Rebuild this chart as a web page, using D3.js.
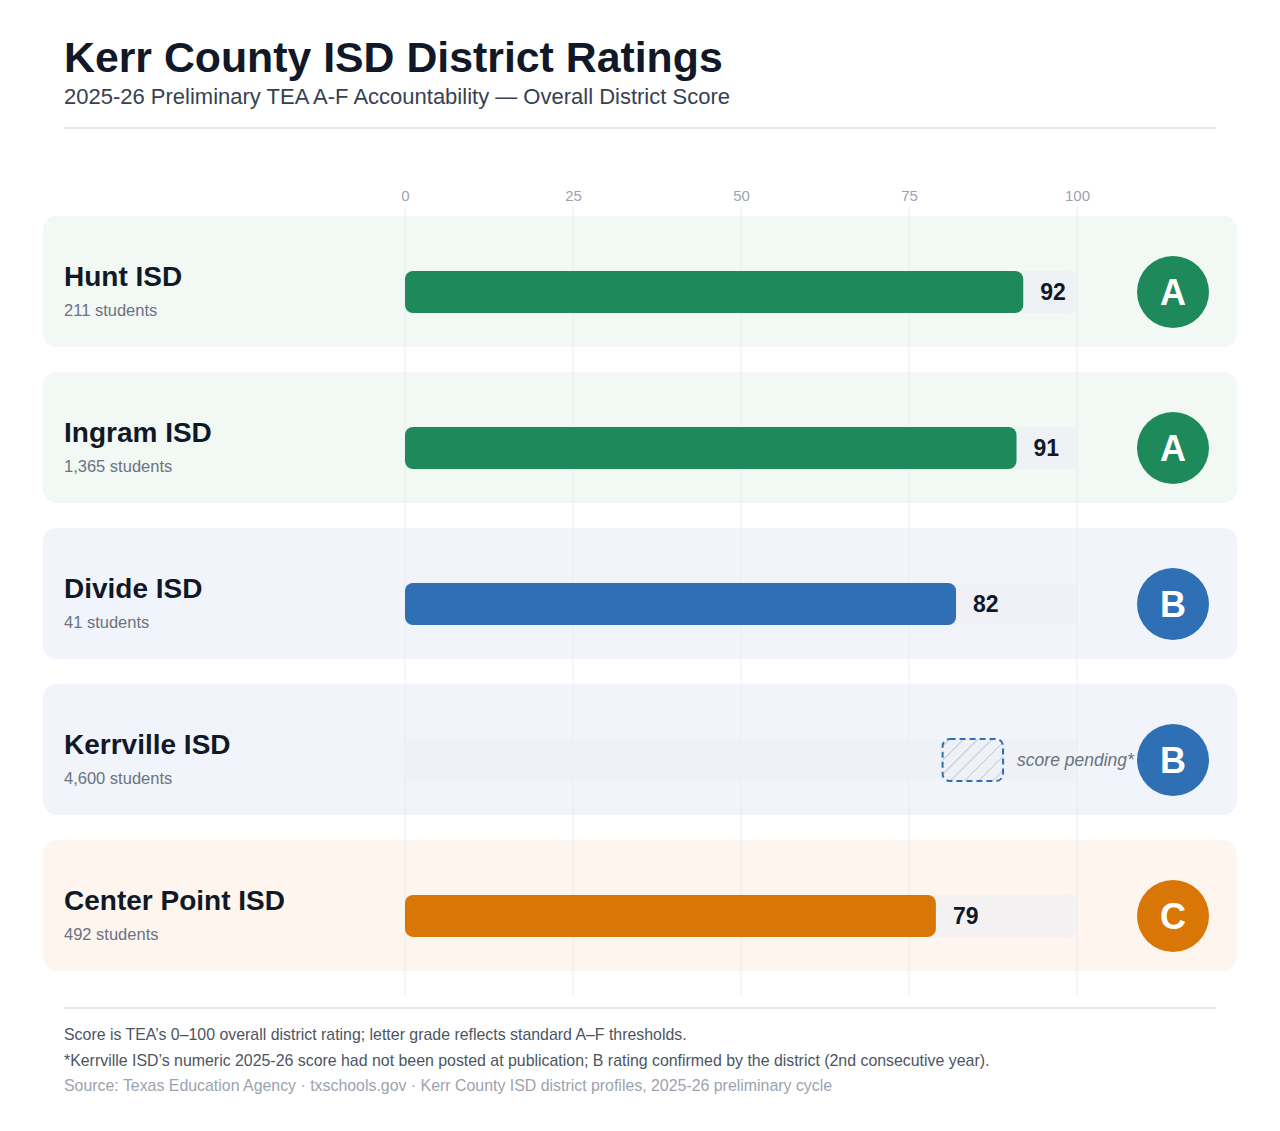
<!DOCTYPE html>
<html lang="en">
<head>
<meta charset="UTF-8">
<title>Kerr County ISD District Ratings</title>
<script src="https://cdnjs.cloudflare.com/ajax/libs/d3/7.8.2/d3.min.js"></script>
<style>
  body { margin: 0; background: #fff; font-family: "Liberation Sans", Arial, sans-serif; }
  svg { display: block; }
</style>
</head>
<body>
<div id="chart"></div>
<script>
  // data
  const districts = ['Hunt ISD', 'Ingram ISD', 'Divide ISD', 'Kerrville ISD', 'Center Point ISD'];
  const students = ['211 students', '1,365 students', '41 students', '4,600 students', '492 students'];
  const scores = [92, 91, 82, null, 79];
  const grades = ['A', 'A', 'B', 'B', 'C'];
  const tickValues = [0, 25, 50, 75, 100];
  const pendingBand = [80, 89]; // B range shown for Kerrville while score is pending

  const gradeColor = { A: '#1e8a5c', B: '#2f6fb3', C: '#d97706' };
  const panelColor = { A: '#f2f9f5', B: '#f1f5fb', C: '#fef6ee' };

  const width = 1280, height = 1131;
  const svg = d3.select('#chart').append('svg').attr('width', width).attr('height', height);

  // header
  svg.append('text').attr('x', 64).attr('y', 72)
    .style('font-size', '42.8px').style('font-weight', 700).style('fill', '#111827')
    .text('Kerr County ISD District Ratings');
  svg.append('text').attr('x', 64).attr('y', 104)
    .style('font-size', '22px').style('fill', '#374151')
    .text('2025-26 Preliminary TEA A-F Accountability — Overall District Score');
  svg.append('line').attr('x1', 64).attr('x2', 1216).attr('y1', 128).attr('y2', 128)
    .style('stroke', '#e5e7eb').style('stroke-width', 2);

  // scales
  const x = d3.scaleLinear().domain([0, 100]).range([405, 1077]);
  const y = d3.scaleBand().domain(districts).range([216, 971]).paddingInner(0.16).paddingOuter(0);
  const barH = 42;
  const mid = 76; // bar centre below panel top
  const idx = d => districts.indexOf(d);

  // row panels
  const rows = svg.append('g').selectAll('g').data(districts).join('g')
    .attr('transform', d => `translate(0,${y(d)})`);

  rows.append('rect')
    .attr('x', 43).attr('width', 1194).attr('height', y.bandwidth())
    .attr('rx', 14)
    .style('fill', d => panelColor[grades[idx(d)]]);

  // grid + axis labels
  const axis = d3.axisTop(x).tickValues(tickValues).tickSize(0).tickPadding(0);
  const ax = svg.append('g').attr('transform', 'translate(0,201)').call(axis);
  ax.select('.domain').remove();
  ax.selectAll('text').style('font-size', '15px').style('fill', '#9ca3af')
    .style('font-family', '"Liberation Sans", Arial, sans-serif');

  svg.append('g').selectAll('line').data(tickValues).join('line')
    .attr('x1', d => x(d)).attr('x2', d => x(d))
    .attr('y1', 206).attr('y2', 995)
    .style('stroke', '#e5e7eb').style('stroke-opacity', 0.7).style('stroke-width', 1);

  const marks = svg.append('g').selectAll('g').data(districts).join('g')
    .attr('transform', d => `translate(0,${y(d)})`);

  // labels
  marks.append('text').attr('x', 64).attr('y', 70)
    .style('font-size', '28px').style('font-weight', 700).style('fill', '#111827')
    .text(d => d);
  marks.append('text').attr('x', 64).attr('y', 100)
    .style('font-size', '16.5px').style('fill', '#6b7280')
    .text(d => students[idx(d)]);

  // tracks
  marks.append('rect')
    .attr('x', x(0)).attr('y', mid - barH / 2)
    .attr('width', x(100) - x(0)).attr('height', barH).attr('rx', 8)
    .style('fill', '#eef0f3').style('opacity', 0.7);

  // bars
  const scored = marks.filter(d => scores[idx(d)] != null);
  scored.append('rect')
    .attr('x', x(0)).attr('y', mid - barH / 2)
    .attr('width', d => x(scores[idx(d)]) - x(0)).attr('height', barH).attr('rx', 8)
    .style('fill', d => gradeColor[grades[idx(d)]]);

  scored.append('text')
    .attr('x', d => x(scores[idx(d)]) + 17)
    .attr('y', mid).attr('dy', '0.36em')
    .style('font-size', '23px').style('font-weight', 700).style('fill', '#111827')
    .text(d => scores[idx(d)]);

  // pending
  const defs = svg.append('defs');
  const pat = defs.append('pattern').attr('id', 'hatch').attr('patternUnits', 'userSpaceOnUse')
    .attr('width', 10).attr('height', 10).attr('patternTransform', 'rotate(45)');
  pat.append('rect').attr('width', 10).attr('height', 10).style('fill', '#eef1f5');
  pat.append('line').attr('x1', 0).attr('x2', 0).attr('y1', 0).attr('y2', 10)
    .style('stroke', '#b8bec8').style('stroke-width', 1.5);

  const pending = marks.filter(d => scores[idx(d)] == null);
  pending.append('rect')
    .attr('x', x(pendingBand[0])).attr('y', mid - 21)
    .attr('width', x(pendingBand[1]) - x(pendingBand[0])).attr('height', 42).attr('rx', 7)
    .style('fill', 'url(#hatch)').style('stroke', gradeColor.B)
    .style('stroke-width', 2).style('stroke-dasharray', '6,4');
  pending.append('text')
    .attr('x', x(pendingBand[1]) + 14).attr('y', mid).attr('dy', '0.36em')
    .style('font-size', '17.5px').style('font-style', 'italic').style('fill', '#6b7280')
    .text('score pending*');

  // grade badges
  marks.append('circle').attr('cx', 1173).attr('cy', mid).attr('r', 36)
    .style('fill', d => gradeColor[grades[idx(d)]]);
  marks.append('text').attr('x', 1173).attr('y', mid).attr('dy', '0.36em')
    .attr('text-anchor', 'middle')
    .style('font-size', '36px').style('font-weight', 700).style('fill', '#fff')
    .text(d => grades[idx(d)]);

  // footer
  svg.append('line').attr('x1', 64).attr('x2', 1216).attr('y1', 1008).attr('y2', 1008)
    .style('stroke', '#e5e7eb').style('stroke-width', 2);
  const notes = [
    ['Score is TEA\u2019s 0\u2013100 overall district rating; letter grade reflects standard A\u2013F thresholds.', '#4b5563'],
    ['*Kerrville ISD\u2019s numeric 2025-26 score had not been posted at publication; B rating confirmed by the district (2nd consecutive year).', '#4b5563'],
    ['Source: Texas Education Agency \u00b7 txschools.gov \u00b7 Kerr County ISD district profiles, 2025-26 preliminary cycle', '#9ca3af']
  ];
  svg.append('g').selectAll('text').data(notes).join('text')
    .attr('x', 64).attr('y', (d, i) => 1040 + i * 25.5)
    .style('font-size', '15.9px').style('fill', d => d[1])
    .text(d => d[0]);
</script>
</body>
</html>
